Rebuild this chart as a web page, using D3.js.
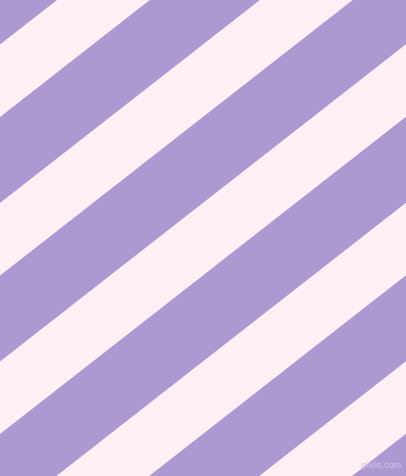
<!DOCTYPE html>
<html>
<head>
<meta charset="utf-8">
<script src="https://cdn.jsdelivr.net/npm/d3@7"></script>
<style>
  body { margin: 0; overflow: hidden; }
</style>
</head>
<body>
<svg id="chart"></svg>
<script>
var width = 406, height = 476;

// stripe pattern: a band index for each light stripe
var bands = [-1, 0, 1, 2, 3, 4, 5];
var bandColors = ["#AD99D1", "#FFF0F5"];   // background, stripe
var stripeWidth = [57.1];
var angle = 38;

var svg = d3.select("#chart")
  .attr("width", width)
  .attr("height", height);

svg.append("rect")
  .attr("width", width)
  .attr("height", height)
  .attr("fill", bandColors[0]);

// band index -> offset perpendicular to the stripes
var offset = d3.scaleLinear()
  .domain([0, 1])
  .range([35.1, 160.0]);

var g = svg.append("g")
  .attr("transform", "rotate(" + (-angle) + ")");

g.selectAll("rect.stripe")
  .data(bands)
  .enter()
  .append("rect")
  .attr("class", "stripe")
  .attr("x", -800)
  .attr("width", 2000)
  .attr("y", function(d) { return offset(d); })
  .attr("height", stripeWidth[0])
  .attr("fill", bandColors[1]);

svg.append("text")
  .attr("x", 401)
  .attr("y", 468)
  .attr("text-anchor", "end")
  .style("font-family", "Liberation Sans, sans-serif")
  .style("font-size", "9px")
  .style("fill", "#cdc2e6")
  .text("pixlis.com");
</script>
</body>
</html>
